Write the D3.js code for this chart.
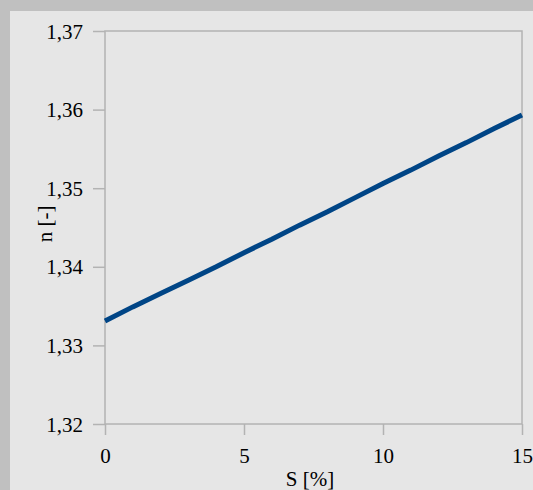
<!DOCTYPE html>
<html>
<head>
<meta charset="utf-8">
<script src="https://cdn.jsdelivr.net/npm/d3@7"></script>
<style>
  body { margin: 0; background: #c0c0c0; }
  svg { display: block; }
  text { font-family: "Liberation Serif", "Times New Roman", serif; fill: #000; }
</style>
</head>
<body>
<svg id="chart" width="533" height="490"></svg>
<script>
// salinity S [%] and refractive index n [-]
const salinity = [0, 1, 2, 3, 4, 5, 6, 7, 8, 9, 10, 11, 12, 13, 14, 15];
const refIndex = [1.3331, 1.3349, 1.3366, 1.3383, 1.3400, 1.3418, 1.3435, 1.3453,
                  1.3470, 1.3488, 1.3506, 1.3523, 1.3541, 1.3558, 1.3576, 1.3593];
const xTicks = [0, 5, 10, 15];
const yTicks = [1.32, 1.33, 1.34, 1.35, 1.36, 1.37];

const WIDTH = 533, HEIGHT = 490;
const plot = { left: 105, right: 522, top: 31, bottom: 424 };
const axisColor = "#b3b3b3";
const FONT = "21px";

const svg = d3.select("#chart");

// outer gray frame + light panel
svg.append("rect").attr("width", WIDTH).attr("height", HEIGHT).attr("fill", "#c0c0c0");
svg.append("rect").attr("x", 10).attr("y", 11)
  .attr("width", WIDTH - 10).attr("height", HEIGHT - 11).attr("fill", "#e6e6e6");

const x = d3.scaleLinear().domain([0, 15]).range([plot.left, plot.right]);
const y = d3.scaleLinear().domain([1.32, 1.37]).range([plot.bottom, plot.top]);

const fmt = d => d3.format(".2f")(d).replace(".", ",");

// plot border (top and right)
svg.append("rect")
  .attr("x", plot.left).attr("y", plot.top)
  .attr("width", plot.right - plot.left).attr("height", plot.bottom - plot.top)
  .attr("fill", "none").attr("stroke", axisColor).attr("stroke-width", 1.5);

// y axis
const yAxis = svg.append("g")
  .attr("transform", `translate(${plot.left},0)`)
  .call(d3.axisLeft(y).tickValues(yTicks).tickFormat(fmt).tickSize(12).tickPadding(10));
yAxis.select(".domain").remove();
yAxis.selectAll("line").attr("stroke", axisColor).attr("stroke-width", 1.5);
yAxis.selectAll("text").style("font-size", FONT)
  .style("font-family", "'Liberation Serif', serif").attr("dy", "0.34em");

// x axis
const xAxis = svg.append("g")
  .attr("transform", `translate(0,${plot.bottom})`)
  .call(d3.axisBottom(x).tickValues(xTicks).tickFormat(d3.format("d")).tickSize(11));
xAxis.select(".domain").remove();
xAxis.selectAll("line").attr("stroke", axisColor).attr("stroke-width", 1.5);
xAxis.selectAll("text").style("font-size", FONT)
  .style("font-family", "'Liberation Serif', serif")
  .attr("y", 39).attr("dy", 0);

// axis titles
svg.append("text")
  .attr("x", 310).attr("y", 486)
  .attr("text-anchor", "middle").style("font-size", FONT)
  .text("S [%]");

svg.append("text")
  .attr("transform", "translate(52,224) rotate(-90)")
  .attr("text-anchor", "middle").style("font-size", FONT)
  .text("n [-]");

// the series
const line = d3.line()
  .x((d, i) => x(salinity[i]))
  .y(d => y(d));

svg.append("path")
  .datum(refIndex)
  .attr("d", line)
  .attr("fill", "none")
  .attr("stroke", "#004586")
  .attr("stroke-width", 5);
</script>
</body>
</html>
